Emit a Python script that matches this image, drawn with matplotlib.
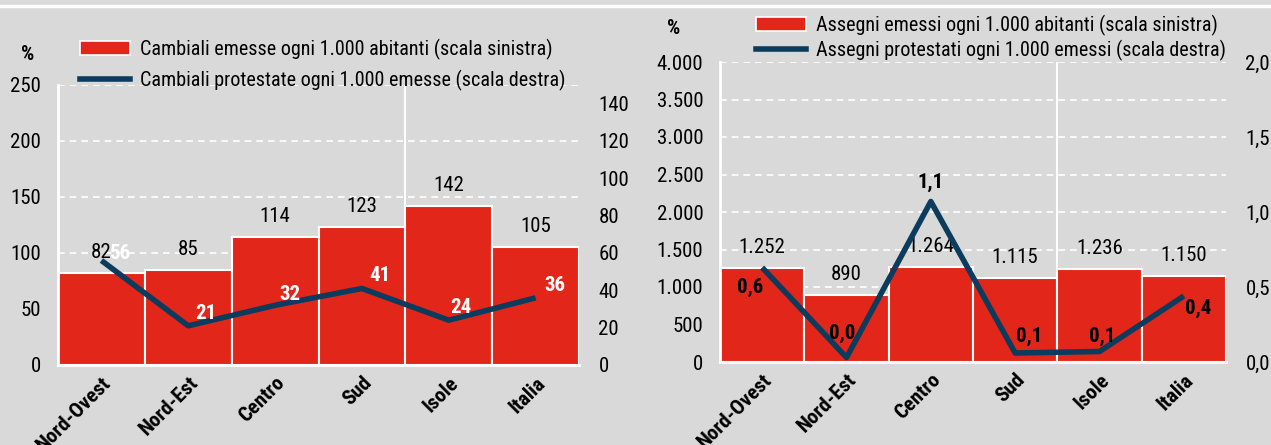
import matplotlib
matplotlib.use("Agg")
import matplotlib.pyplot as plt
from matplotlib.patches import Patch
from matplotlib.lines import Line2D
from matplotlib.ticker import FuncFormatter

regions = ["Nord-Ovest", "Nord-Est", "Centro", "Sud", "Isole", "Italia"]

cambiali_emesse = [82, 85, 114, 123, 142, 105]
cambiali_protestate = [56, 21, 32, 41, 24, 36]

assegni_emessi = [1252, 890, 1264, 1115, 1236, 1150]
assegni_protestati = [0.63, 0.03, 1.07, 0.06, 0.07, 0.44]
assegni_protestati_lbl = ["0,6", "0,0", "1,1", "0,1", "0,1", "0,4"]

# label offsets (points) for the line values
off_left = [(13, 5), (13, 9), (11, 8), (13, 9), (9, 9), (14, 9)]
off_right = [(-9, -14), (-3, 17), (0, 14), (10, 12), (2, 11), (10, -9)]

BG = "#d9d9d9"
RED = "#e3261a"
NAVY = "#0b3c5d"
FONT = ["Roboto Condensed", "PT Sans Narrow", "DejaVu Sans"]

plt.rcParams["font.family"] = FONT
plt.rcParams["font.size"] = 15

fig = plt.figure(figsize=(12.71, 4.45), dpi=100, facecolor=BG)
fig.add_artist(Line2D([0, 1], [0.986, 0.986], color="white", lw=2.5,
                      transform=fig.transFigure))


def thousands(v, _):
    return f"{int(v):,}".replace(",", ".")


def panel(rect, bars, line, ymax1, step1, ymax2, ticks2, fmt1, fmt2,
          bar_fmt, line_lbls, offs, line_lbl_color, legend_labels,
          legend_xy, legend_spacing, pct_xy):
    ax = fig.add_axes(rect)
    ax.set_facecolor(BG)
    x = range(len(regions))
    ax.bar(x, bars, width=1.0, color=RED, edgecolor="white", linewidth=1.5,
           zorder=2)
    ax.set_xlim(-0.5, len(regions) - 0.5)
    ax.set_ylim(0, ymax1)
    ax.set_yticks([i * step1 for i in range(int(ymax1 / step1) + 1)])
    ax.yaxis.set_major_formatter(FuncFormatter(fmt1))
    ax.grid(axis="y", color="white", ls=(0, (4, 3)), lw=1.2, zorder=0)
    ax.axvline(3.5, color="white", lw=1.5, zorder=0)
    for s in ["top", "right"]:
        ax.spines[s].set_visible(False)
    for s in ["left", "bottom"]:
        ax.spines[s].set_color("white")
        ax.spines[s].set_linewidth(2)
    ax.tick_params(length=0, pad=12, labelsize=15)
    ax.tick_params(axis="x", pad=6)
    ax.set_xticks(list(x))
    ax.set_xticklabels(regions, rotation=45, ha="right", va="top",
                       rotation_mode="anchor", fontweight="bold")
    for xi, v in zip(x, bars):
        ax.annotate(bar_fmt(v), (xi, v), xytext=(0, 8),
                    textcoords="offset points", ha="center", va="bottom",
                    fontsize=15, zorder=5)

    ax2 = ax.twinx()
    ax2.plot(list(x), line, color=NAVY, lw=4, solid_capstyle="butt",
             zorder=3)
    ax2.set_ylim(0, ymax2)
    ax2.set_yticks(ticks2)
    ax2.yaxis.set_major_formatter(FuncFormatter(fmt2))
    ax2.tick_params(length=0, pad=14, labelsize=15)
    for s in ax2.spines.values():
        s.set_visible(False)
    for xi, v, t, o in zip(x, line, line_lbls, offs):
        ax2.annotate(t, (xi, v), xytext=o, textcoords="offset points",
                     ha="center", va="center", fontsize=15,
                     fontweight="bold", color=line_lbl_color)

    handles = [Patch(facecolor=RED, edgecolor="white", linewidth=1.2),
               Line2D([], [], color=NAVY, lw=4)]
    fig.legend(handles, legend_labels, loc="upper left",
               bbox_to_anchor=legend_xy, frameon=False, fontsize=14.5,
               handlelength=2.5, handleheight=0.7, handletextpad=0.5,
               labelspacing=legend_spacing, borderpad=0, borderaxespad=0)
    fig.text(pct_xy[0], pct_xy[1], "%", fontsize=15, fontweight="bold",
             ha="center", va="center")
    return ax, ax2


panel([58 / 1271, 1 - 365 / 445, 521 / 1271, 280 / 445],
      cambiali_emesse, cambiali_protestate, 250, 50, 150,
      list(range(0, 141, 20)),
      lambda v, _: f"{int(v)}", lambda v, _: f"{int(v)}",
      lambda v: f"{v}", [str(v) for v in cambiali_protestate], off_left,
      "white",
      ["Cambiali emesse ogni 1.000 abitanti (scala sinistra)",
       "Cambiali protestate ogni 1.000 emesse (scala destra)"],
      (80 / 1271, 1 - 39 / 445), 0.5, (28 / 1271, 1 - 54 / 445))

panel([720 / 1271, 1 - 362 / 445, 506 / 1271, 300 / 445],
      assegni_emessi, assegni_protestati, 4000, 500, 2.0,
      [0, 0.5, 1.0, 1.5, 2.0],
      thousands, lambda v, _: f"{v:.1f}".replace(".", ","),
      lambda v: f"{v:,}".replace(",", "."), assegni_protestati_lbl,
      off_right, "black",
      ["Assegni emessi ogni 1.000 abitanti (scala sinistra)",
       "Assegni protestati ogni 1.000 emessi (scala destra)"],
      (756 / 1271, 1 - 15 / 445), 0.18, (674 / 1271, 1 - 28 / 445))

fig.savefig("out.png", dpi=100, facecolor=BG)
